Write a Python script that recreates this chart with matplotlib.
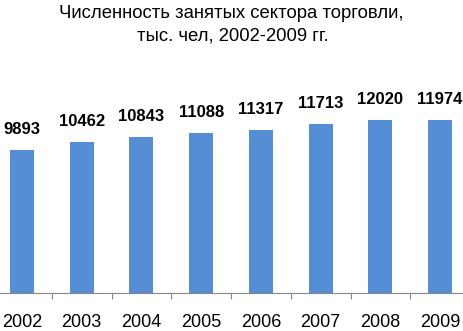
import numpy as np
import matplotlib
matplotlib.use("Agg")
import matplotlib.pyplot as plt

years = ["2002", "2003", "2004", "2005", "2006", "2007", "2008", "2009"]
employed = [9893, 10462, 10843, 11088, 11317, 11713, 12020, 11974]

plt.rcParams["font.family"] = ["Liberation Sans", "DejaVu Sans"]

W, H = 463, 331
fig = plt.figure(figsize=(W / 100, H / 100), dpi=100)
# plot area slightly wider than the image, as in the source
ax = fig.add_axes([-8 / W, (H - 293) / H, 478 / W, 202 / H])

x = np.arange(len(years))
ax.bar(x, employed, width=0.4, color="#558ED5")
for xi, v in zip(x, employed):
    ax.annotate(str(v), (xi, v), xytext=(0, 13), textcoords="offset pixels",
                ha="center", va="bottom", fontsize=12, fontweight="bold")

ax.set_xlim(-0.5, len(years) - 0.5)
ax.set_ylim(0, 14000)
ax.set_yticks([])
for s in ["top", "right", "left"]:
    ax.spines[s].set_visible(False)
ax.spines["bottom"].set_color("#868686")
ax.set_xticks(x[:-1] + 0.5)
ax.set_xticklabels([])
ax.tick_params(axis="x", length=4, color="#868686", direction="out")
ax.set_xticks(x, minor=True)
ax.set_xticklabels(years, minor=True, fontsize=13)
ax.tick_params(axis="x", which="minor", length=0, pad=15)

fig.text(231 / W, 1 - 13 / H, "Численность занятых сектора торговли,",
         ha="center", va="center", fontsize=13.3)
fig.text(233 / W, 1 - 36 / H, "тыс. чел, 2002-2009 гг.",
         ha="center", va="center", fontsize=13.3)

fig.savefig("out.png", dpi=100)
